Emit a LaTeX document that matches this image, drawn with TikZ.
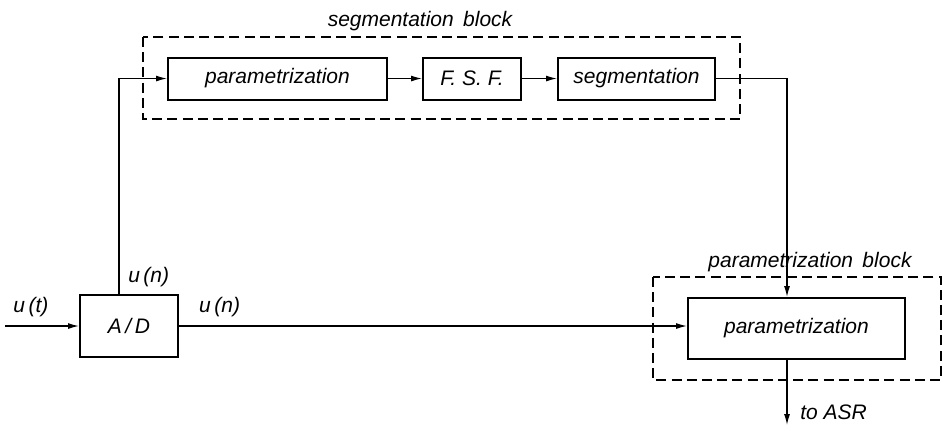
\documentclass[tikz,border=0pt]{standalone}
\usepackage{fontspec}
\setmainfont{Liberation Sans}
\usepackage{tikz}
\usetikzlibrary{arrows.meta}

\begin{document}
\begin{tikzpicture}[x=0.5pt,y=-0.5pt,font=\fontsize{10.5}{12}\selectfont\itshape,
    blockbox/.style={draw,line width=1pt,minimum height=21pt,inner sep=0pt},
    groupbox/.style={draw,dashed,line width=0.65pt,dash pattern=on 5pt off 2.6pt},
    sig/.style={line width=0.65pt,-{Latex[length=5.5pt,width=3pt]}},
    wire/.style={line width=0.65pt}]
  \useasboundingbox (0,0) rectangle (943,430);
  % ── Dashed groups ──────────────────────────────────
  \draw[groupbox] (143,37) rectangle (740,119);
  \draw[groupbox] (653,277) rectangle (941,380);
  \node (seglabel) at (420,21) {segmentation\, block};
  \node (parlabel) at (810,262) {parametrization\, block};
  % ── Boxes ──────────────────────────────────────────
  \node[blockbox,minimum width=49pt,minimum height=31pt] (ad) at (129,326) {A\,/\,D};
  \node[blockbox,minimum width=109.5pt] (param) at (277.5,78.5) {parametrization};
  \node[blockbox,minimum width=49pt] (fsf) at (472,78.5) {F. S. F.};
  \node[blockbox,minimum width=78.5pt] (seg) at (636.5,78.5) {segmentation};
  \node[blockbox,minimum width=108.5pt,minimum height=30.5pt] (outparam) at (796.5,328.5) {parametrization};
  % ── Turning points ─────────────────────────────────
  \coordinate (src) at (5,326);
  \coordinate (tap) at (119,78.5);
  \coordinate (turn) at (787,78.5);
  \coordinate (asr) at (787,425);
  % ── Arrows ─────────────────────────────────────────
  % u(t) into A/D
  \draw[sig] (src) -- (ad.west) node[pos=0.35,above=1pt]{u\,(t)};
  % A/D top → segmentation branch
  \draw[sig] (ad.north -| tap) -- (tap) node[pos=0.08,right=1pt]{u\,(n)} -- (param.west);
  \draw[sig] (param.east) -- (fsf.west);
  \draw[sig] (fsf.east) -- (seg.west);
  % segmentation → parametrization block
  \draw[sig] (seg.east) -- (turn) -- (turn |- outparam.north);
  % A/D right → parametrization
  \draw[sig] (ad.east) -- (ad.east -| outparam.west) node[pos=0.08,above=1pt]{u\,(n)};
  % output
  \draw[sig] (turn |- outparam.south) -- (asr) node[pos=0.8,right=3pt]{to ASR};
\end{tikzpicture}
\end{document}
